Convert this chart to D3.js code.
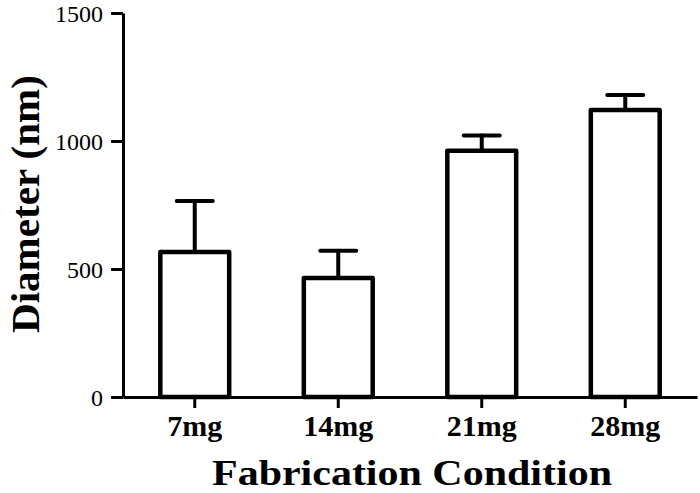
<!DOCTYPE html>
<html>
<head>
<meta charset="utf-8">
<script src="https://cdn.jsdelivr.net/npm/d3@7"></script>
<style>
  body { margin: 0; background: #fff; }
  svg { display: block; }
  svg text { font-family: "Liberation Serif", Tinos, "Times New Roman", Times, "DejaVu Serif", serif; fill: #000; }
</style>
</head>
<body>
<div id="chart"></div>
<script>
const w = 700;
const h = 493;

// data
const categories = ["7mg", "14mg", "21mg", "28mg"];
const means = [566, 465, 962, 1121];
const errors = [200, 106, 59, 59];
const yTicks = [0, 500, 1000, 1500];

const svg = d3
  .select("#chart")
  .append("svg")
  .attr("width", w)
  .attr("height", h);

const x = d3.scaleBand().domain(categories).range([123, 697]).paddingInner(0.52).paddingOuter(0.26);
const y = d3.scaleLinear().domain([0, 1500]).range([397, 13]);

// bars
svg
  .selectAll("rect.bar")
  .data(categories)
  .enter()
  .append("rect")
  .attr("class", "bar")
  .attr("x", (d) => x(d))
  .attr("y", (d, i) => y(means[i]))
  .attr("width", x.bandwidth())
  .attr("height", (d, i) => y(0) - y(means[i]))
  .attr("fill", "#fff")
  .attr("stroke", "#000")
  .attr("stroke-width", 4.5)
  .attr("stroke-linejoin", "round");

// error bars (upper only)
const err = svg.append("g").attr("stroke", "#000").attr("stroke-width", 4).attr("stroke-linecap", "round");
err
  .selectAll("line.stem")
  .data(categories)
  .enter()
  .append("line")
  .attr("x1", (d) => x(d) + x.bandwidth() / 2)
  .attr("x2", (d) => x(d) + x.bandwidth() / 2)
  .attr("y1", (d, i) => y(means[i]))
  .attr("y2", (d, i) => y(means[i] + errors[i]));
err
  .selectAll("line.cap")
  .data(categories)
  .enter()
  .append("line")
  .attr("x1", (d) => x(d) + x.bandwidth() / 2 - 18)
  .attr("x2", (d) => x(d) + x.bandwidth() / 2 + 18)
  .attr("y1", (d, i) => y(means[i] + errors[i]))
  .attr("y2", (d, i) => y(means[i] + errors[i]));

// y axis
const yAxis = d3.axisLeft(y).tickValues(yTicks).tickFormat(d3.format("d")).tickSize(12).tickSizeOuter(0).tickPadding(8);
const gy = svg.append("g").attr("transform", "translate(123,0)").call(yAxis);
gy.selectAll("path, line").attr("stroke", "#000").attr("stroke-width", 3);
gy.selectAll("text")
  .attr("font-size", 24)
  .attr("fill", "#000")
  .attr("dy", "0.34em");

// x axis
const xAxis = d3.axisBottom(x).tickSize(11).tickSizeOuter(0).tickPadding(7);
const gx = svg.append("g").attr("transform", "translate(0,397)").call(xAxis);
gx.selectAll("path, line").attr("stroke", "#000").attr("stroke-width", 3);
gx.selectAll("text")
  .attr("font-size", 30)
  .attr("font-weight", "bold")
  .attr("fill", "#000");

// titles
svg
  .append("text")
  .attr("x", 412)
  .attr("y", 485)
  .attr("text-anchor", "middle")
  .attr("font-size", 36)
  .attr("font-weight", "bold")
  .attr("textLength", 400)
  .attr("lengthAdjust", "spacingAndGlyphs")
  .text("Fabrication Condition");

svg
  .append("text")
  .attr("transform", "translate(39,204) scale(1.2,1) rotate(-90)")
  .attr("text-anchor", "middle")
  .attr("font-size", 34)
  .attr("font-weight", "bold")
  .attr("textLength", 258)
  .attr("lengthAdjust", "spacingAndGlyphs")
  .text("Diameter (nm)");
</script>
</body>
</html>
